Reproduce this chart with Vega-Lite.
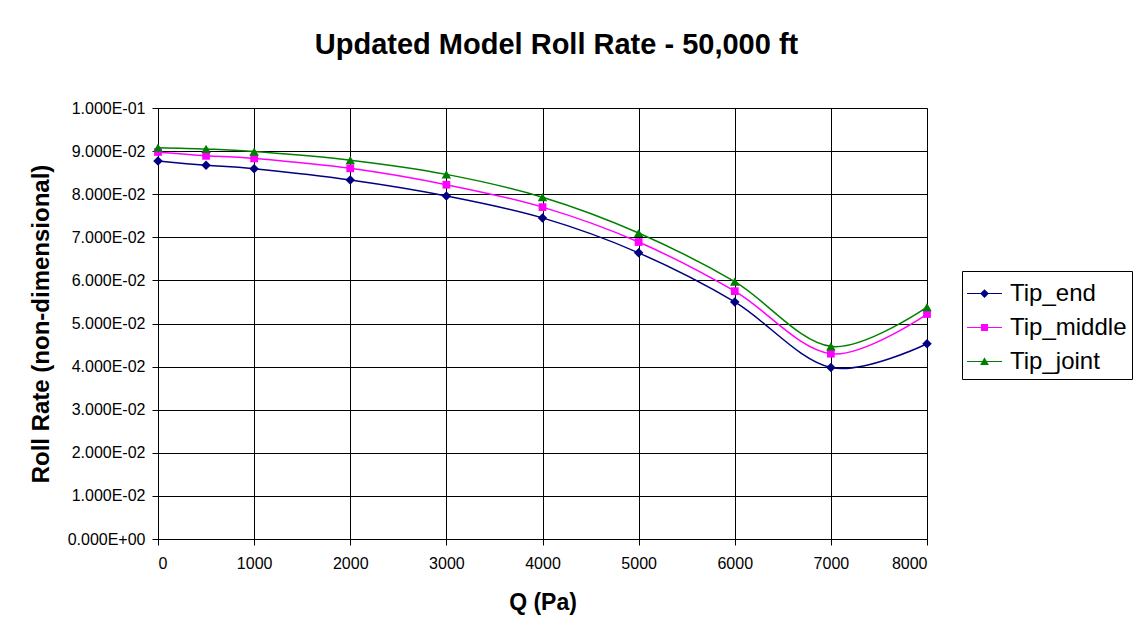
{
  "$schema": "https://vega.github.io/schema/vega-lite/v6.json",
  "width": 769,
  "height": 431,
  "autosize": {"type": "none"},
  "padding": {"left": 158, "top": 108, "right": 211, "bottom": 99},
  "background": "white",
  "title": {
    "text": "Updated Model Roll Rate - 50,000 ft",
    "font": "Liberation Sans",
    "fontSize": 29,
    "fontWeight": "bold",
    "color": "black",
    "anchor": "middle",
    "frame": "group",
    "dx": 14,
    "offset": 40
  },
  "data": {
    "values": [
      {"q": 0, "series": "Tip_end", "value": 0.0877},
      {"q": 500, "series": "Tip_end", "value": 0.0867},
      {"q": 1000, "series": "Tip_end", "value": 0.0859},
      {"q": 2000, "series": "Tip_end", "value": 0.0833},
      {"q": 3000, "series": "Tip_end", "value": 0.0796},
      {"q": 4000, "series": "Tip_end", "value": 0.0745},
      {"q": 5000, "series": "Tip_end", "value": 0.0664},
      {"q": 6000, "series": "Tip_end", "value": 0.0550},
      {"q": 7000, "series": "Tip_end", "value": 0.0398},
      {"q": 8000, "series": "Tip_end", "value": 0.0453},
      {"q": 0, "series": "Tip_middle", "value": 0.0898},
      {"q": 500, "series": "Tip_middle", "value": 0.0889},
      {"q": 1000, "series": "Tip_middle", "value": 0.0883},
      {"q": 2000, "series": "Tip_middle", "value": 0.0860},
      {"q": 3000, "series": "Tip_middle", "value": 0.0822},
      {"q": 4000, "series": "Tip_middle", "value": 0.0770},
      {"q": 5000, "series": "Tip_middle", "value": 0.0689},
      {"q": 6000, "series": "Tip_middle", "value": 0.0575},
      {"q": 7000, "series": "Tip_middle", "value": 0.0430},
      {"q": 8000, "series": "Tip_middle", "value": 0.0522},
      {"q": 0, "series": "Tip_joint", "value": 0.0908},
      {"q": 500, "series": "Tip_joint", "value": 0.0905},
      {"q": 1000, "series": "Tip_joint", "value": 0.0899},
      {"q": 2000, "series": "Tip_joint", "value": 0.0879},
      {"q": 3000, "series": "Tip_joint", "value": 0.0846},
      {"q": 4000, "series": "Tip_joint", "value": 0.0793},
      {"q": 5000, "series": "Tip_joint", "value": 0.0710},
      {"q": 6000, "series": "Tip_joint", "value": 0.0597},
      {"q": 7000, "series": "Tip_joint", "value": 0.0447},
      {"q": 8000, "series": "Tip_joint", "value": 0.0538}
    ]
  },
  "encoding": {
    "x": {
      "field": "q",
      "type": "quantitative",
      "scale": {"domain": [0, 8000], "nice": false, "zero": false},
      "axis": {
        "title": "Q  (Pa)",
        "values": [0, 1000, 2000, 3000, 4000, 5000, 6000, 7000, 8000],
        "format": "d",
        "labelFontSize": 16,
        "labelPadding": 10,
        "titleFontSize": 23,
        "titlePadding": 20
      }
    },
    "y": {
      "field": "value",
      "type": "quantitative",
      "scale": {"domain": [0, 0.1], "nice": false},
      "axis": {
        "title": "Roll Rate (non-dimensional)",
        "values": [0, 0.01, 0.02, 0.03, 0.04, 0.05, 0.06, 0.07, 0.08, 0.09, 0.1],
        "labelExpr": "replace(replace(upper(format(datum.value, '.3e')), 'E-', 'E-0'), 'E+', 'E+0')",
        "labelFontSize": 16,
        "labelPadding": 7,
        "titleFontSize": 24,
        "titlePadding": 14
      }
    },
    "color": {
      "field": "series",
      "type": "nominal",
      "scale": {"domain": ["Tip_end", "Tip_middle", "Tip_joint"], "range": ["#000080", "#FF00FF", "#008000"]},
      "legend": {"title": null, "orient": "none", "legendX": 804, "legendY": 163}
    }
  },
  "layer": [
    {
      "transform": [{"filter": "datum.q < 0"}],
      "mark": {"type": "point", "filled": true, "opacity": 1},
      "encoding": {
        "shape": {
          "field": "series",
          "type": "nominal",
          "scale": {
            "domain": ["Tip_end", "Tip_middle", "Tip_joint"],
            "range": [
              "M-1,-0.03H1V0.03H-1ZM0,-0.25L0.25,0L0,0.25L-0.25,0Z",
              "M-1,-0.03H1V0.03H-1ZM-0.2,-0.2H0.2V0.2H-0.2Z",
              "M-1,-0.03H1V0.03H-1ZM0,-0.25L0.25,0.2L-0.25,0.2Z"
            ]
          },
          "legend": {"title": null, "orient": "none", "legendX": 804, "legendY": 163}
        }
      }
    },
    {
      "mark": {"type": "line", "interpolate": "cardinal", "tension": 0, "strokeWidth": 1.5}
    },
    {
      "transform": [{"filter": "datum.series == 'Tip_end'"}],
      "mark": {"type": "point", "shape": "diamond", "filled": true, "size": 90, "opacity": 1}
    },
    {
      "transform": [{"filter": "datum.series == 'Tip_middle'"}],
      "mark": {"type": "point", "shape": "square", "filled": true, "size": 60, "opacity": 1}
    },
    {
      "transform": [{"filter": "datum.series == 'Tip_joint'"}],
      "mark": {"type": "point", "shape": "triangle-up", "filled": true, "size": 90, "opacity": 1}
    }
  ],
  "config": {
    "font": "Liberation Sans",
    "view": {"stroke": "#808080", "strokeWidth": 1},
    "axis": {
      "labelFont": "Liberation Sans",
      "labelColor": "black",
      "titleFont": "Liberation Sans",
      "titleColor": "black",
      "titleFontWeight": "bold",
      "domainColor": "black",
      "tickColor": "black",
      "tickSize": 6,
      "gridColor": "black",
      "gridOpacity": 1,
      "gridWidth": 1,
      "domainWidth": 1
    },
    "legend": {
      "strokeColor": "black",
      "fillColor": "white",
      "padding": 5,
      "rowPadding": 4,
      "symbolSize": 1225,
      "symbolStrokeWidth": 0,
      "symbolOpacity": 1,
      "labelFont": "Liberation Sans",
      "labelFontSize": 24,
      "labelColor": "black",
      "labelOffset": 8,
      "labelLimit": 300
    }
  }
}
